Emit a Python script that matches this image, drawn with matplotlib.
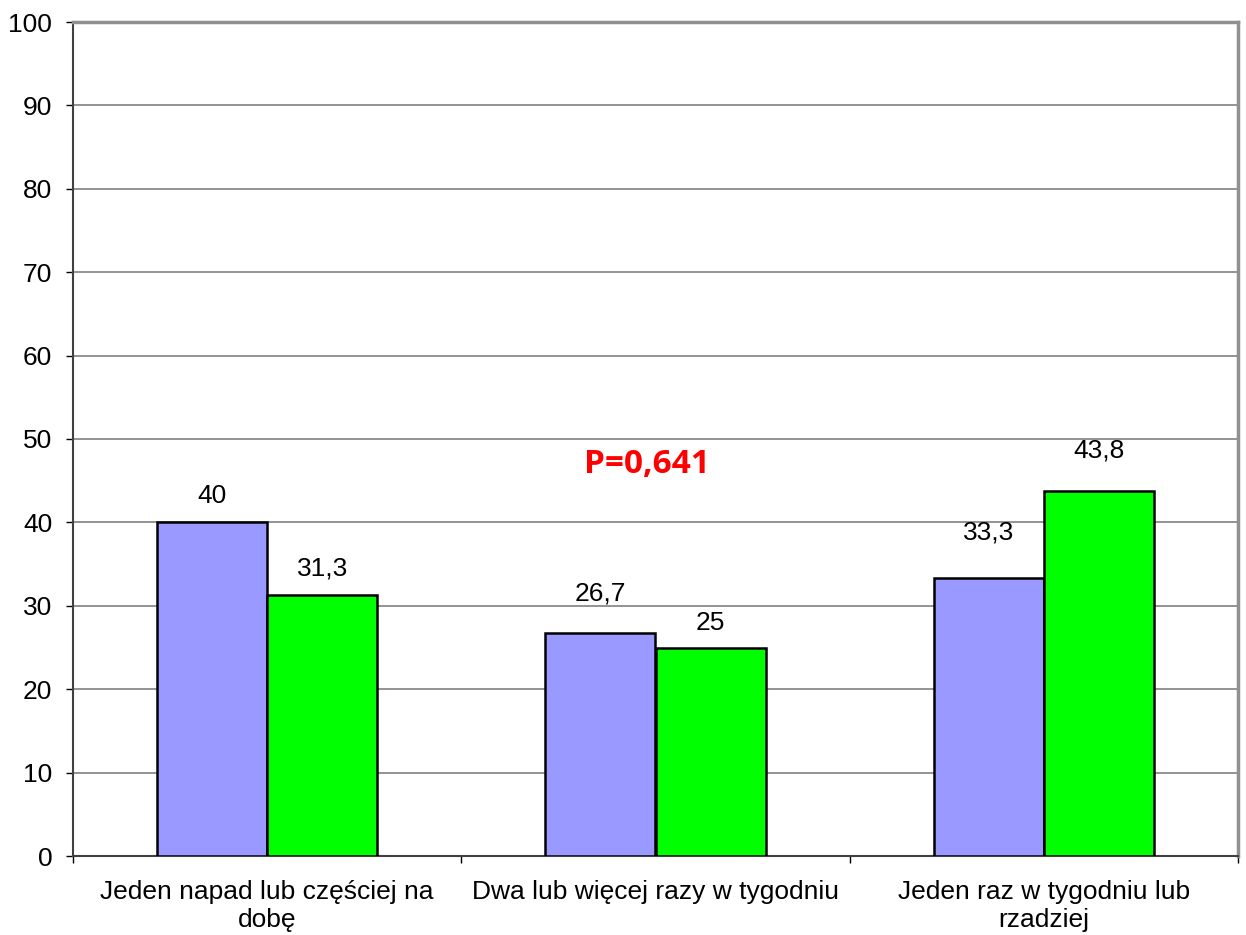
import matplotlib
matplotlib.use("Agg")
import matplotlib.pyplot as plt
import numpy as np

categories = ["Jeden napad lub częściej na\ndobę",
              "Dwa lub więcej razy w tygodniu",
              "Jeden raz w tygodniu lub\nrzadziej"]
series_a = [40, 26.7, 33.3]
series_b = [31.3, 25, 43.8]
labels_a = ["40", "26,7", "33,3"]
labels_b = ["31,3", "25", "43,8"]
# vertical gap (points) between each bar top and the centre of its value label
offsets_a = [19, 29, 33]
offsets_b = [19, 18, 29]
y_ticks = list(range(0, 101, 10))
p_text = "P=0,641"

plt.rcParams['font.family'] = ['Liberation Sans', 'DejaVu Sans']

fig = plt.figure(figsize=(12.46, 9.35), dpi=100)
ax = fig.add_axes([73/1246, 1 - 856/935, (1238 - 73)/1246, (856 - 22)/935])

x = np.arange(len(categories))
w = 0.284
bars_a = ax.bar(x - w/2, series_a, width=w, color="#9999FF", edgecolor="black", linewidth=1.8, zorder=3)
bars_b = ax.bar(x + w/2, series_b, width=w, color="#00FF00", edgecolor="black", linewidth=1.8, zorder=3)

for bars, vals, labs, offs in ((bars_a, series_a, labels_a, offsets_a), (bars_b, series_b, labels_b, offsets_b)):
    for b, v, lab, off in zip(bars, vals, labs, offs):
        ax.annotate(lab, (b.get_x() + b.get_width()/2, v), xytext=(0, off),
                    textcoords="offset points", ha="center", va="center", fontsize=19)

ax.set_xlim(-0.5, 2.5)
ax.set_ylim(0, 100)
ax.set_yticks(y_ticks)
ax.tick_params(axis="y", labelsize=19, length=5, width=1, direction="out", pad=10)
ax.set_xticks(x)
ax.set_xticklabels(categories, fontsize=19, linespacing=1.25)
ax.tick_params(axis="x", which="major", length=0, pad=17)
ax.set_xticks([-0.5, 0.5, 1.5, 2.5], minor=True)
ax.tick_params(axis="x", which="minor", length=5, width=1, direction="out")

ax.grid(axis="y", color="#808080", linewidth=1.2, zorder=0)
ax.set_axisbelow(True)
for side in ("left", "bottom"):
    ax.spines[side].set_color("#404040")
    ax.spines[side].set_linewidth(1.5)
for side in ("top", "right"):
    ax.spines[side].set_color("#909090")
    ax.spines[side].set_linewidth(2.5)

ax.text(0.978, 46.9, p_text, color="#FF0000", fontsize=24, fontweight="bold",
        family=["Open Sans", "DejaVu Sans"], ha="center", va="center")

fig.savefig("out.png", dpi=100)
